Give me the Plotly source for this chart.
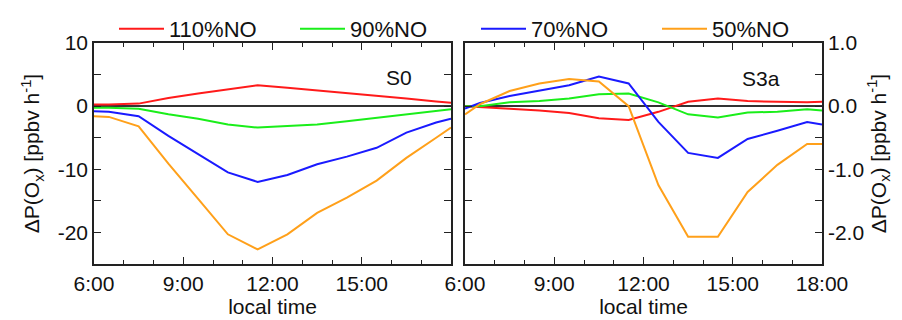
import plotly.graph_objects as go

# time axis (hours)
hours = [6.0, 6.5, 7.5, 8.5, 9.5, 10.5, 11.5, 12.5, 13.5, 14.5, 15.5, 16.5, 17.5, 18.0]

# S0 panel (ppbv h-1)
s0_110 = [0.27, 0.27, 0.4, 1.3, 2.0, 2.7, 3.3, 2.9, 2.5, 2.0, 1.6, 1.2, 0.75, 0.55]
s0_90 = [-0.27, -0.25, -0.4, -1.3, -2.0, -2.9, -3.4, -3.2, -2.9, -2.4, -1.85, -1.3, -0.8, -0.5]
s0_70 = [-0.8, -0.9, -1.6, -4.7, -7.6, -10.5, -12.0, -10.9, -9.2, -8.0, -6.6, -4.2, -2.6, -2.0]
s0_50 = [-1.6, -1.7, -3.2, -9.1, -14.7, -20.3, -22.7, -20.3, -16.9, -14.5, -11.8, -8.2, -5.0, -3.4]

# S3a panel (ppbv h-1)
s3_110 = [0.0, -0.01, -0.04, -0.07, -0.11, -0.19, -0.22, -0.09, 0.07, 0.12, 0.08, 0.07, 0.06, 0.07]
s3_90 = [0.0, 0.0, 0.06, 0.08, 0.12, 0.19, 0.2, 0.06, -0.13, -0.18, -0.1, -0.09, -0.05, -0.07]
s3_70 = [-0.04, 0.05, 0.16, 0.24, 0.33, 0.47, 0.36, -0.25, -0.74, -0.82, -0.52, -0.39, -0.25, -0.29]
s3_50 = [-0.13, 0.03, 0.24, 0.36, 0.43, 0.39, 0.0, -1.25, -2.07, -2.07, -1.36, -0.93, -0.6, -0.6]

names = ["110%NO", "90%NO", "70%NO", "50%NO"]
colors = ["#ff1a1a", "#1aee1a", "#1a1aff", "#ffa01a"]

xtick_vals = [6, 9, 12, 15, 18]
xtick_text = ["6:00", "9:00", "12:00", "15:00", "18:00"]
y1_vals = [-20, -10, 0, 10]
y1_text = ["-20", "-10", "0", "10"]
y2_vals = [-2.0, -1.0, 0.0, 1.0]
y2_text = ["-2.0", "-1.0", "0.0", "1.0"]

FONT = "Liberation Sans, Arial, sans-serif"
fig = go.Figure()

for name, col, ys in zip(names, colors, [s0_110, s0_90, s0_70, s0_50]):
    fig.add_trace(go.Scatter(x=hours, y=ys, mode="lines", name=name,
                             line=dict(color=col, width=2), xaxis="x", yaxis="y"))
for name, col, ys in zip(names, colors, [s3_110, s3_90, s3_70, s3_50]):
    fig.add_trace(go.Scatter(x=hours, y=ys, mode="lines", name=name, showlegend=False,
                             line=dict(color=col, width=2), xaxis="x2", yaxis="y2"))

axcommon = dict(showline=True, linecolor="#222", linewidth=1.5, mirror="allticks",
                ticks="inside", ticklen=7, tickwidth=1.2, tickcolor="#222",
                showgrid=False, tickfont=dict(size=21, color="#111"))

xdom1 = [0, 357 / 728]
xdom2 = [371 / 728, 1]
ytitle = "ΔP(O<sub>x</sub>) [ppbv h<sup>-1</sup>]"

# page body has an 8px margin, so the figure is sized/placed to compensate
fig.update_layout(
    width=894, height=312,
    margin=dict(l=86, r=80, t=35, b=56, autoexpand=False),
    paper_bgcolor="white", plot_bgcolor="white",
    font=dict(family=FONT, size=21, color="#111"),
    showlegend=True,
    legend=dict(orientation="h", x=106 / 894, xref="container", xanchor="left",
                y=1.0, yref="container", yanchor="top",
                font=dict(size=22), itemwidth=45, entrywidth=121, entrywidthmode="pixels",
                bgcolor="rgba(0,0,0,0)"),
    xaxis=dict(domain=xdom1, range=[6, 18], tickvals=xtick_vals[:-1], ticktext=xtick_text[:-1],
               minor=dict(dtick=1, tick0=6, ticks="inside", ticklen=4, tickcolor="#222"),
               title=dict(text="local time", standoff=4, font=dict(size=21)), anchor="y", **axcommon),
    yaxis=dict(range=[-25, 10], tickvals=y1_vals, ticktext=y1_text,
               minor=dict(dtick=5, tick0=0, ticks="inside", ticklen=7, tickcolor="#222"),
               zeroline=True, zerolinecolor="#333", zerolinewidth=1.5,
               title=dict(text=ytitle, standoff=12, font=dict(size=21)),
               anchor="x", **axcommon),
    xaxis2=dict(domain=xdom2, range=[6, 18], tickvals=xtick_vals, ticktext=xtick_text,
                minor=dict(dtick=1, tick0=6, ticks="inside", ticklen=4, tickcolor="#222"),
                title=dict(text="local time", standoff=4, font=dict(size=21)), anchor="y2", **axcommon),
    yaxis2=dict(range=[-2.5, 1.0], tickvals=y2_vals, ticktext=y2_text, side="right",
                minor=dict(dtick=0.5, tick0=0, ticks="inside", ticklen=7, tickcolor="#222"),
                zeroline=True, zerolinecolor="#333", zerolinewidth=1.5,
                title=dict(text=ytitle, standoff=8, font=dict(size=21)),
                anchor="x2", **axcommon),
)

fig.add_annotation(x=16.25, y=4.5, xref="x", yref="y", text="S0", showarrow=False,
                   font=dict(size=21, color="#111"))
fig.add_annotation(x=15.95, y=0.43, xref="x2", yref="y2", text="S3a", showarrow=False,
                   font=dict(size=21, color="#111"))

fig.write_html("out.html")
